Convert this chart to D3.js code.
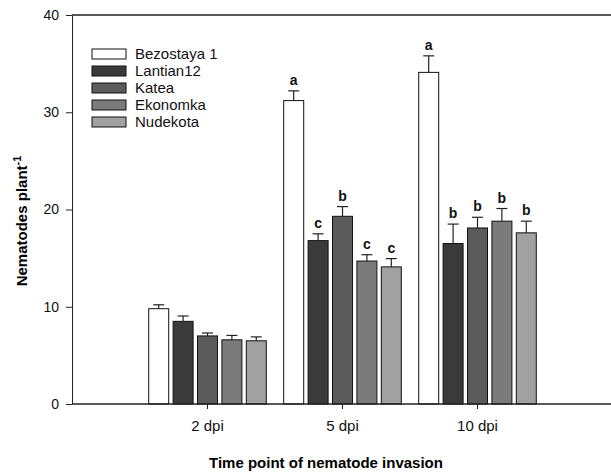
<!DOCTYPE html>
<html>
<head>
<meta charset="utf-8">
<script src="https://cdn.jsdelivr.net/npm/d3@7"></script>
<style>
  body { margin: 0; background: #fff; overflow: hidden; }
  text { font-family: "Liberation Sans", Arial, sans-serif; }
</style>
</head>
<body>
<div id="chart"></div>
<script>
const groups = ['2 dpi', '5 dpi', '10 dpi'];
const cultivars = ['Bezostaya 1', 'Lantian12', 'Katea', 'Ekonomka', 'Nudekota'];
const fills = ['#ffffff', '#3a3a3a', '#5b5b5b', '#7b7b7b', '#a1a1a1'];

// means per cultivar, one entry per time point
const bezostaya = [9.8, 31.2, 34.1];
const lantian = [8.5, 16.8, 16.5];
const katea = [7.0, 19.3, 18.1];
const ekonomka = [6.6, 14.7, 18.8];
const nudekota = [6.5, 14.1, 17.6];

// standard errors
const bezostayaErr = [0.4, 1.0, 1.7];
const lantianErr = [0.55, 0.7, 2.0];
const kateaErr = [0.3, 1.0, 1.1];
const ekonomkaErr = [0.45, 0.65, 1.3];
const nudekotaErr = [0.4, 0.85, 1.2];

// significance letters (none shown at 2 dpi)
const letters5 = ['a', 'c', 'b', 'c', 'c'];
const letters10 = ['a', 'b', 'b', 'b', 'b'];
const letters2 = ['', '', '', '', ''];

const yTicks = [0, 10, 20, 30, 40];

const means = [bezostaya, lantian, katea, ekonomka, nudekota];
const errs = [bezostayaErr, lantianErr, kateaErr, ekonomkaErr, nudekotaErr];
const letterSets = [letters2, letters5, letters10];

const rows = [];
groups.forEach((g, gi) => {
    cultivars.forEach((c, ci) => {
        rows.push({group: g, cultivar: c, value: means[ci][gi], err: errs[ci][gi],
                   letter: letterSets[gi][ci], color: fills[ci]});
    });
});

const width = 611, height = 473;
const mLeft = 72, mRight = 611, mTop = 15, mBottom = 404;

const svg = d3.select('#chart').append('svg')
    .attr('width', width)
    .attr('height', height)
    .style('display', 'block');

const y = d3.scaleLinear().domain([0, 40]).range([mBottom, mTop]);
const x0 = d3.scaleBand().domain(groups).range([140, 545]);
const x1 = d3.scaleBand().domain(cultivars).range([8.7, 126.3]).paddingInner(0.18);

// bars
const bars = svg.append('g');
bars.selectAll('rect')
    .data(rows)
    .join('rect')
    .attr('x', d => x0(d.group) + x1(d.cultivar))
    .attr('y', d => y(d.value))
    .attr('width', x1.bandwidth())
    .attr('height', d => y(0) - y(d.value))
    .attr('fill', d => d.color)
    .attr('stroke', '#111')
    .attr('stroke-width', 1);

// error bars
const eb = svg.append('g').attr('stroke', '#222').attr('stroke-width', 1.2);
rows.forEach(d => {
    const cx = x0(d.group) + x1(d.cultivar) + x1.bandwidth() / 2;
    eb.append('line').attr('x1', cx).attr('x2', cx)
        .attr('y1', y(d.value)).attr('y2', y(d.value + d.err));
    eb.append('line').attr('x1', cx - 5.5).attr('x2', cx + 5.5)
        .attr('y1', y(d.value + d.err)).attr('y2', y(d.value + d.err));
});

// letters
svg.append('g').selectAll('text')
    .data(rows.filter(d => d.letter))
    .join('text')
    .attr('x', d => x0(d.group) + x1(d.cultivar) + x1.bandwidth() / 2)
    .attr('y', d => y(d.value + d.err) - 6)
    .attr('text-anchor', 'middle')
    .attr('font-size', 14)
    .attr('font-weight', 'bold')
    .attr('fill', '#111')
    .text(d => d.letter);

// y axis
const yAxis = svg.append('g')
    .attr('transform', `translate(${mLeft},0)`)
    .call(d3.axisLeft(y).tickValues(yTicks).tickSize(6).tickPadding(7).tickSizeOuter(0));
yAxis.select('.domain').attr('stroke', '#222');
yAxis.selectAll('.tick line').attr('stroke', '#222');
yAxis.selectAll('.tick text').attr('font-size', 14).attr('fill', '#111')
    .attr('font-family', '"Liberation Sans", Arial, sans-serif');

// x axis
const xAxis = svg.append('g')
    .attr('transform', `translate(0,${mBottom})`)
    .call(d3.axisBottom(x0).tickSize(5).tickPadding(11).tickSizeOuter(0));
xAxis.select('.domain').remove();
xAxis.selectAll('.tick line').attr('stroke', '#222');
xAxis.selectAll('.tick text').attr('font-size', 15).attr('fill', '#111')
    .attr('font-family', '"Liberation Sans", Arial, sans-serif');

// top and bottom lines of the frame (no right edge in the original)
svg.append('path')
    .attr('d', `M${mLeft},${mBottom}H${mRight}M${mLeft},${mTop}H${mRight}`)
    .attr('fill', 'none')
    .attr('stroke', '#222')
    .attr('stroke-width', 1.3);

// axis titles
svg.append('text')
    .attr('x', 326)
    .attr('y', 468)
    .attr('text-anchor', 'middle')
    .attr('font-size', 15)
    .attr('font-weight', 'bold')
    .text('Time point of nematode invasion');

const yt = svg.append('text')
    .attr('transform', 'translate(27,221) rotate(-90)')
    .attr('text-anchor', 'middle')
    .attr('font-size', 15)
    .attr('font-weight', 'bold');
yt.append('tspan').text('Nematodes plant');
yt.append('tspan').attr('font-size', 11).attr('dy', -6).text('-1');

// legend
const legend = svg.append('g');
cultivars.forEach((c, i) => {
    const ly = 49 + i * 17;
    legend.append('rect')
        .attr('x', 92).attr('y', ly)
        .attr('width', 34).attr('height', 10)
        .attr('fill', fills[i])
        .attr('stroke', '#111');
    legend.append('text')
        .attr('x', 135).attr('y', ly + 10)
        .attr('font-size', 15)
        .attr('fill', '#111')
        .text(c);
});
</script>
</body>
</html>
